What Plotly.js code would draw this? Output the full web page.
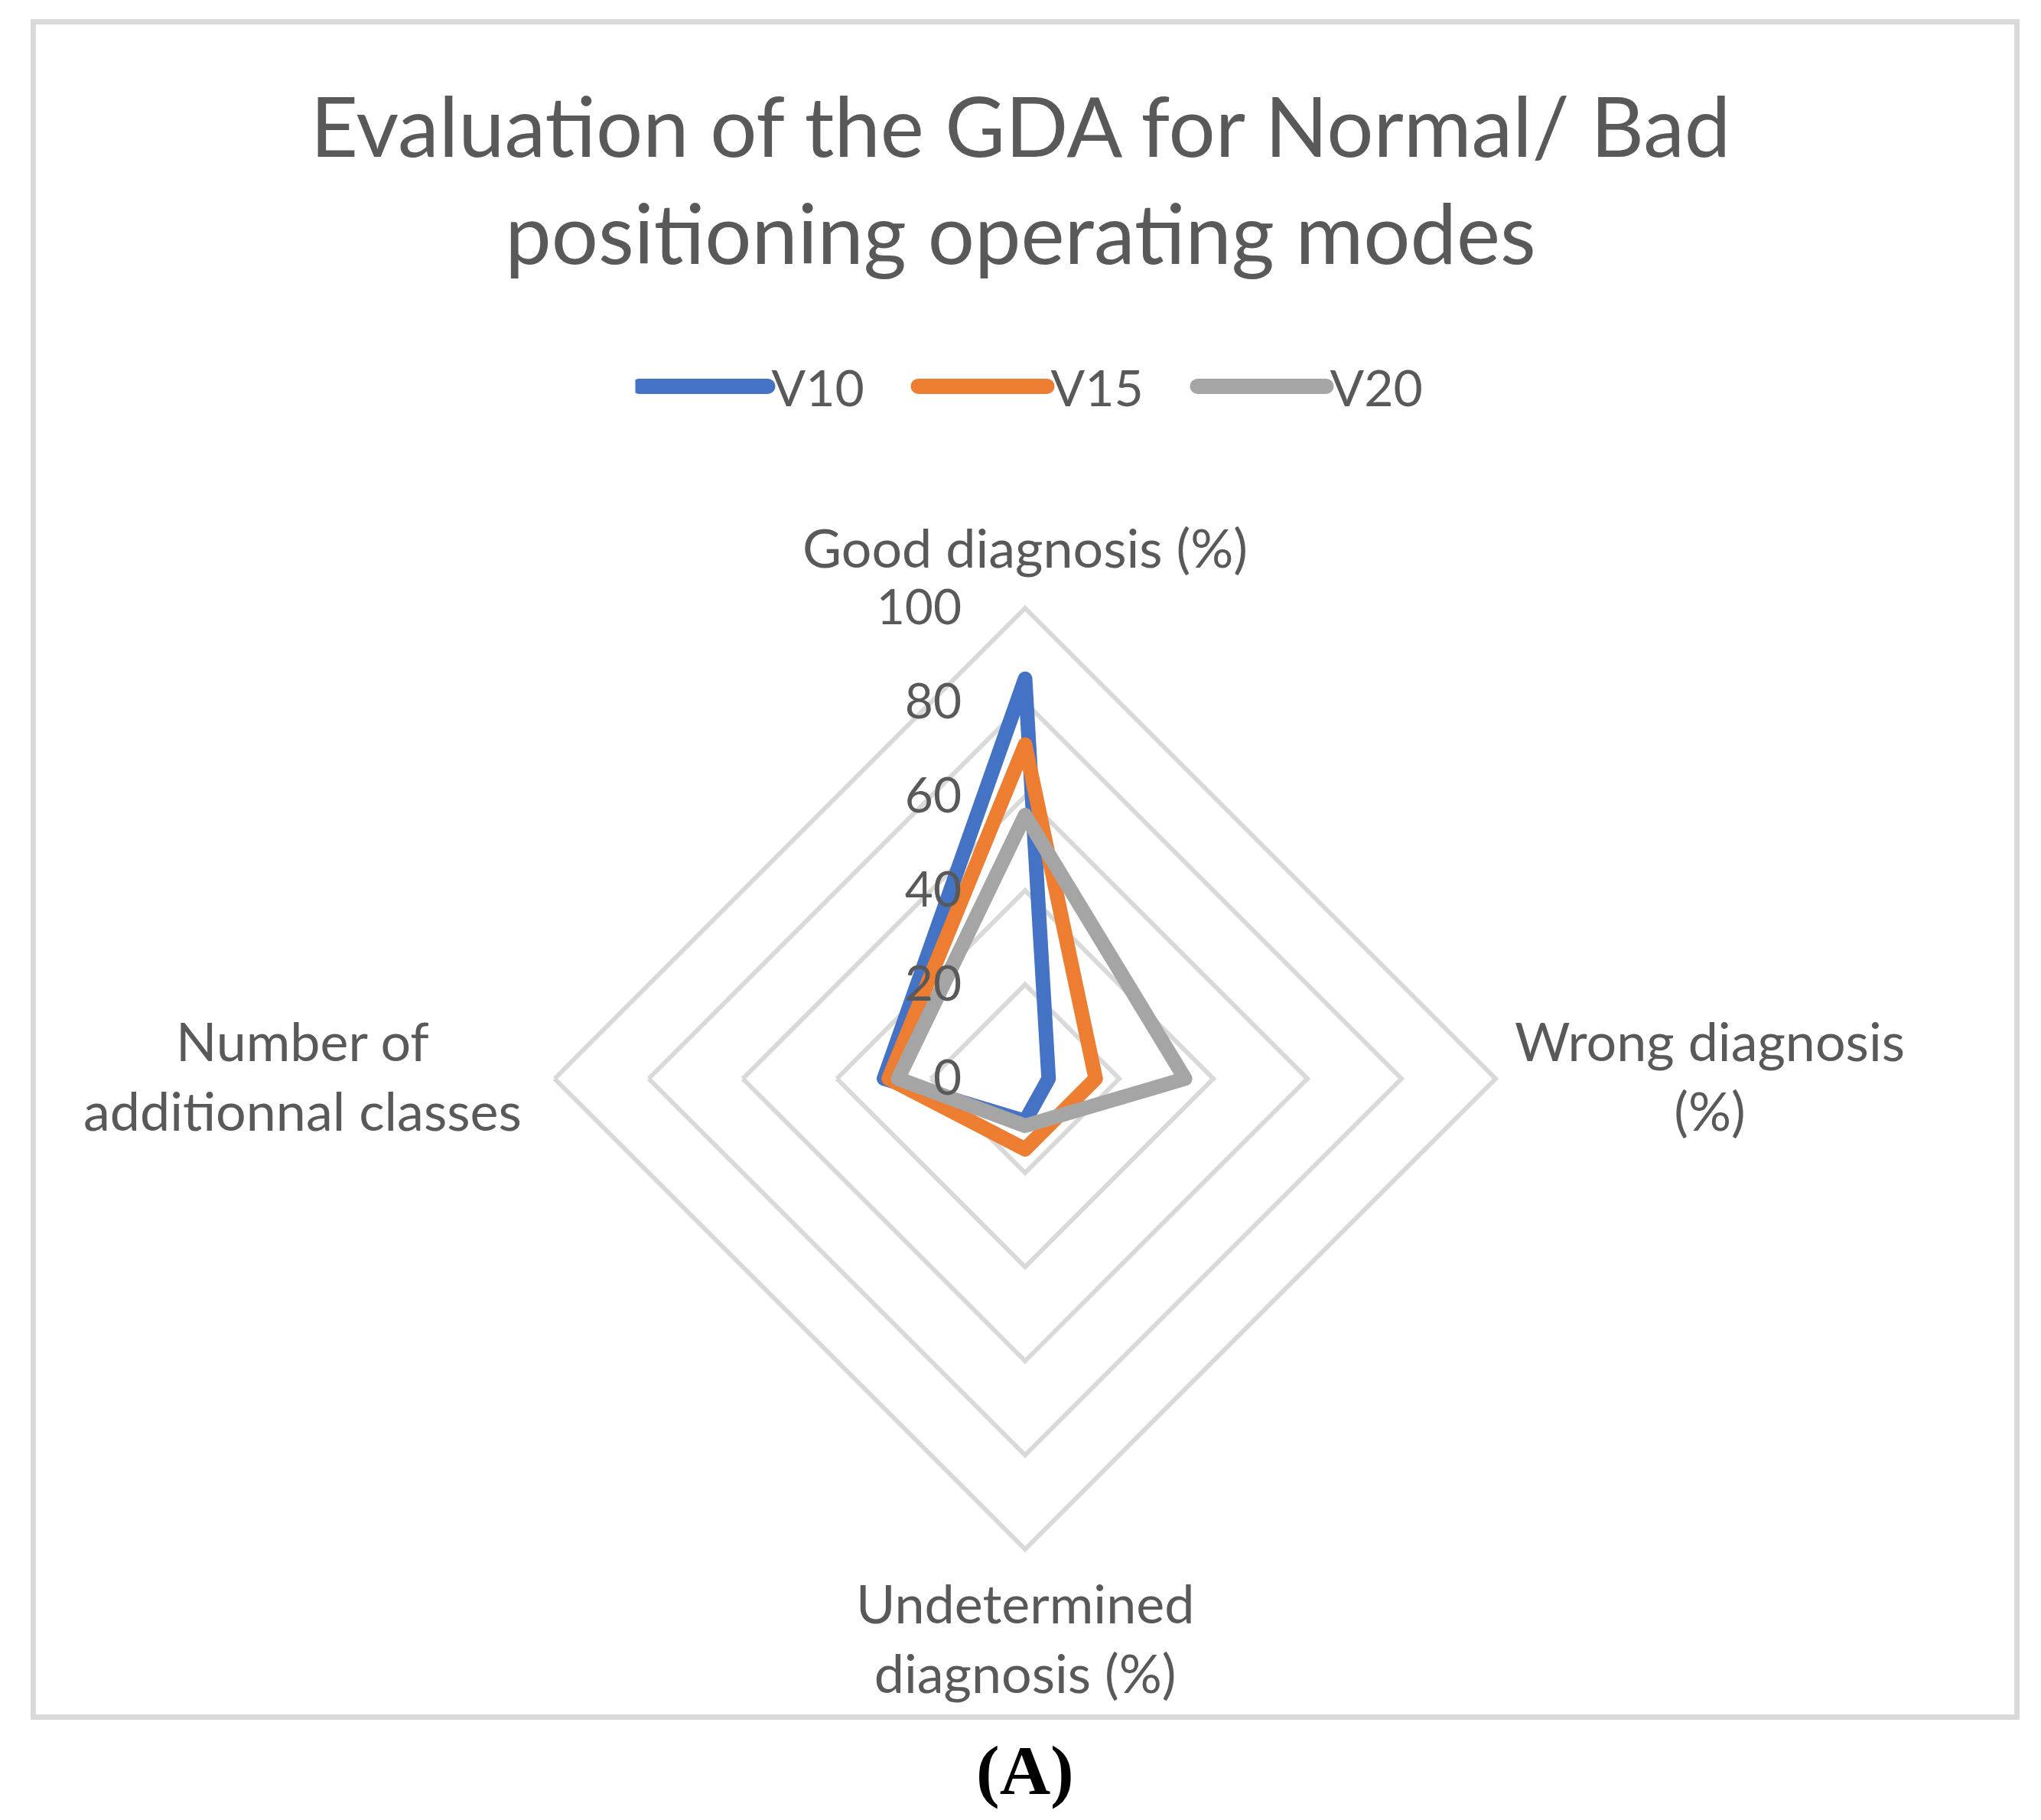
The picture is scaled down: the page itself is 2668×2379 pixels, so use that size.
<!DOCTYPE html>
<html>
<head>
<meta charset="utf-8">
<script src="https://cdn.plot.ly/plotly-3.0.1.min.js"></script>
<style>
html,body{margin:0;padding:0;background:#fff;}
#chart{width:2668px;height:2379px;}
.js-line{stroke-linejoin:round !important;stroke-linecap:round !important;}
.legendlines path{stroke-linecap:round !important;stroke-width:20px !important;}
</style>
</head>
<body>
<div id="chart"></div>
<script>
const categories = ["Good diagnosis (%)", "Wrong diagnosis (%)", "Undetermined diagnosis (%)", "Number of additionnal classes"];
const categoryLabels = ["Good diagnosis (%)", "Wrong diagnosis<br>(%)", "Undetermined<br>diagnosis (%)", "Number of<br>additionnal classes"];
const seriesNames = ["V10", "V15", "V20"];
const v10 = [85, 5, 9, 30];
const v15 = [71, 15, 15, 29];
const v20 = [56, 34, 10, 27];
const radialTicks = [0, 20, 40, 60, 80, 100];

const colors = ["#4472C4", "#ED7D31", "#A5A5A5"];
const textColor = "#595959";
const gridColor = "#D9D9D9";
const sansFont = "Lato, 'Open Sans', sans-serif";

function closed(a) { return a.concat([a[0]]); }

const allSeries = [v10, v15, v20];
const traces = allSeries.map((vals, i) => ({
  type: "scatterpolar",
  r: closed(vals),
  theta: closed(categories),
  mode: "lines",
  name: seriesNames[i],
  line: { color: colors[i], width: 19 },
  hoverinfo: "skip"
}));

const W = 2668, H = 2379;
const cx = 1340, cy = 1410, R = 615;

// category label anchor points (pixels), placed around the polar frame
const labelPos = [
  { x: cx, y: cy - R - 80 },
  { x: cx + R + 280, y: cy - 5 },
  { x: cx, y: cy + R + 115 },
  { x: cx - R - 330, y: cy - 5 }
];

const annotations = categoryLabels.map((t, i) => ({
  text: t, xref: "paper", yref: "paper",
  x: labelPos[i].x / W, y: (H - labelPos[i].y) / H,
  xanchor: "center", yanchor: "middle", align: "center",
  showarrow: false,
  font: { family: sansFont, size: 70, color: textColor }
}));
annotations.push({
  text: "<b>(A)</b>", xref: "paper", yref: "paper",
  x: cx / W, y: (H - 2314) / H, xanchor: "center", yanchor: "middle",
  showarrow: false,
  font: { family: "'Liberation Serif', 'Times New Roman', serif", size: 92, color: "#000000" }
});

const layout = {
  width: W, height: H,
  margin: { l: 0, r: 0, t: 0, b: 0, pad: 0 },
  paper_bgcolor: "#ffffff",
  plot_bgcolor: "#ffffff",
  font: { family: sansFont, color: textColor, size: 66 },
  title: {
    text: "Evaluation of the GDA for Normal/ Bad<br>positioning operating modes",
    x: 0.5, xanchor: "center",
    y: 1 - 205 / H, yanchor: "middle",
    font: { family: sansFont, size: 108, color: textColor }
  },
  showlegend: true,
  legend: {
    orientation: "h",
    x: 1378 / W, xanchor: "center",
    y: 1 - 505 / H, yanchor: "middle",
    font: { family: sansFont, size: 66, color: textColor },
    itemwidth: 168,
    entrywidth: 182,
    entrywidthmode: "pixels",
    bgcolor: "rgba(0,0,0,0)"
  },
  polar: {
    domain: { x: [(cx - R) / W, (cx + R) / W], y: [(H - cy - R) / H, (H - cy + R) / H] },
    gridshape: "linear",
    bgcolor: "#ffffff",
    radialaxis: {
      range: [0, 100],
      tickvals: radialTicks,
      ticktext: radialTicks.map(String),
      angle: 90,
      side: "counterclockwise",
      showline: false,
      ticks: "outside",
      ticklen: 60,
      tickcolor: "rgba(0,0,0,0)",
      gridcolor: gridColor,
      gridwidth: 6,
      tickfont: { family: sansFont, size: 64, color: textColor },
      tickangle: 90
    },
    angularaxis: {
      direction: "clockwise",
      rotation: 90,
      showgrid: false,
      showline: true,
      linecolor: gridColor,
      linewidth: 6,
      ticks: "",
      showticklabels: false
    }
  },
  shapes: [{
    type: "rect", xref: "paper", yref: "paper",
    x0: 43.5 / W, x1: 2636.5 / W, y0: (H - 2244.5) / H, y1: (H - 28.5) / H,
    line: { color: gridColor, width: 7 }, fillcolor: "rgba(0,0,0,0)", layer: "below"
  }],
  annotations: annotations
};

Plotly.newPlot("chart", traces, layout, { displayModeBar: false, staticPlot: true });
</script>
</body>
</html>
